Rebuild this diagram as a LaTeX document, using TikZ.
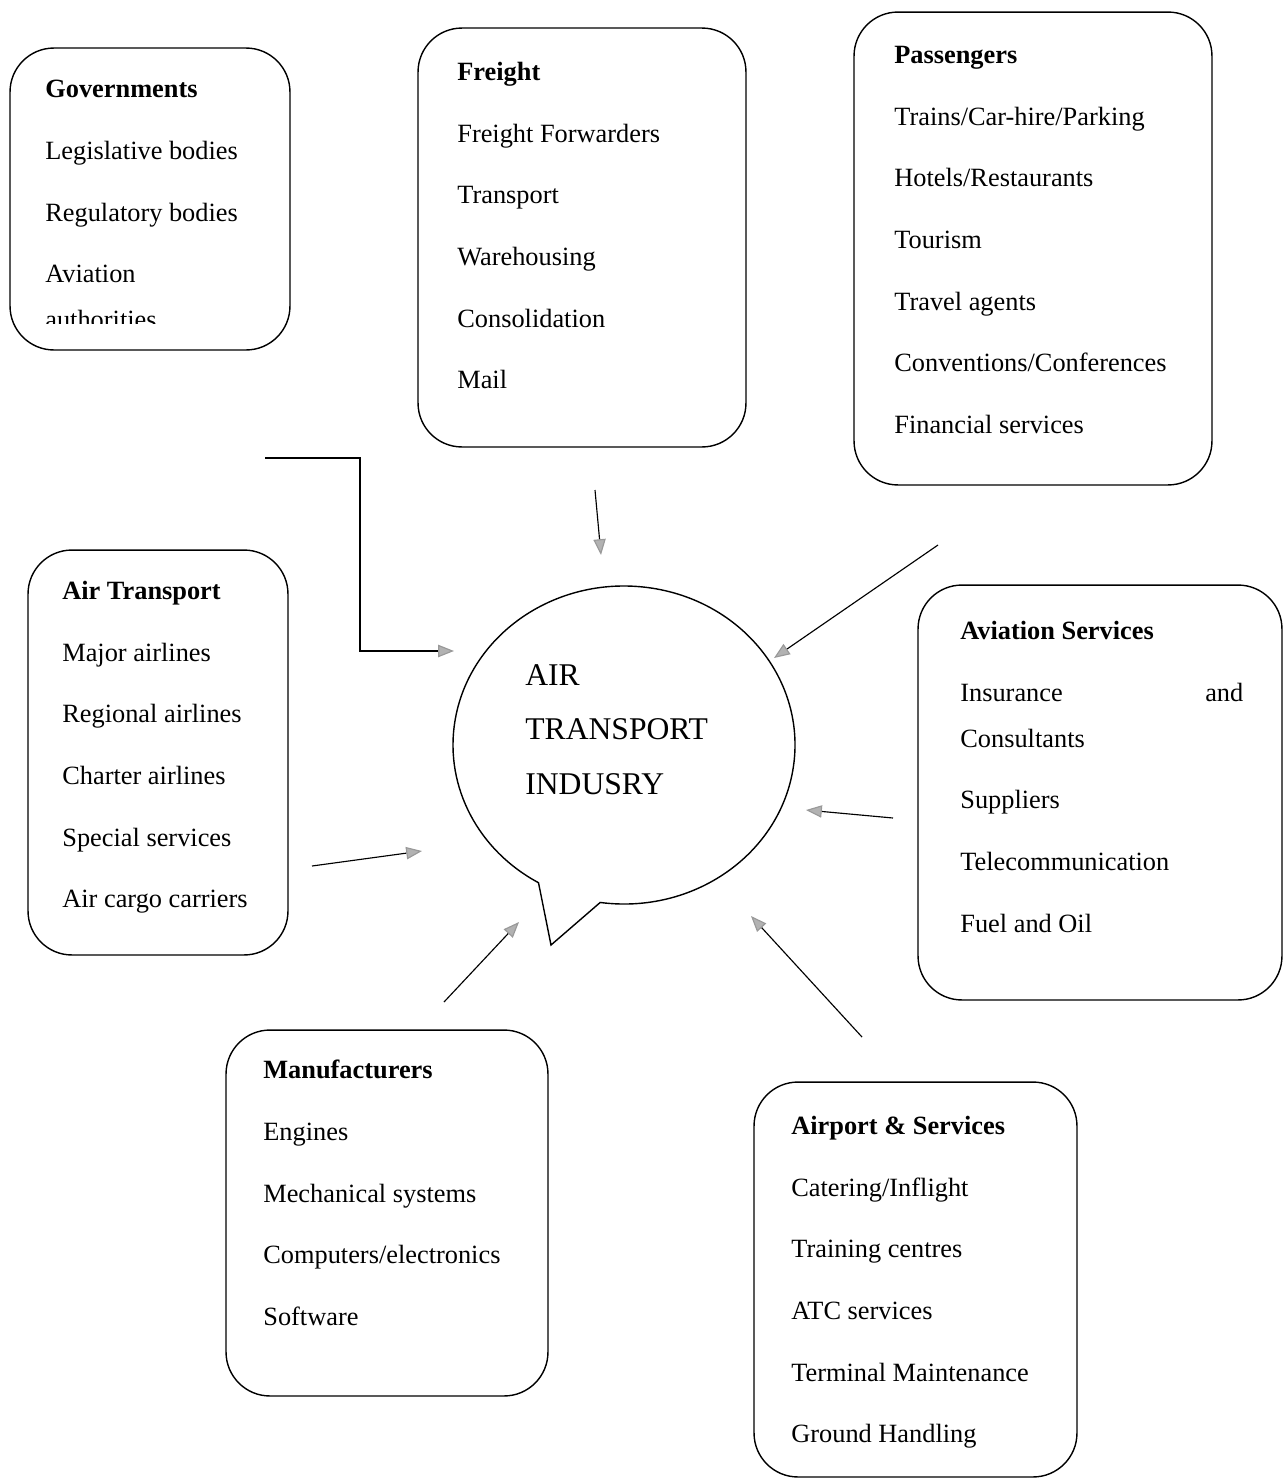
\documentclass[tikz,border=0pt]{standalone}
\usepackage{fontspec}
\setmainfont{Liberation Serif}
\usetikzlibrary{arrows.meta}
\usetikzlibrary{positioning}

\begin{document}
\begin{tikzpicture}[x=0.02cm,y=0.02cm,
                    catbox/.style={draw,rounded corners=25pt,line width=0.8pt},
                    boxtext/.style={anchor=north west,align=left,inner sep=0pt,
                                    font=\fontsize{15}{35.1}\selectfont},
                    feed/.style={-{Triangle[length=9pt,width=7pt,color=gray!80,fill=gray!60]},
                                 line width=0.65pt}]
  \useasboundingbox (0,0) rectangle (1288,-1478);

  % category boxes
  \node[catbox,minimum width=5.6cm,minimum height=6.04cm] (gov) at (150,-199) {};
  \node[catbox,minimum width=6.56cm,minimum height=8.38cm] (freight) at (582,-237.5) {};
  \node[catbox,minimum width=7.16cm,minimum height=9.46cm] (pass) at (1033,-248.5) {};
  \node[catbox,minimum width=5.2cm,minimum height=8.1cm] (airt) at (158,-752.5) {};
  \node[catbox,minimum width=7.28cm,minimum height=8.3cm] (avserv) at (1100,-792.5) {};
  \node[catbox,minimum width=6.44cm,minimum height=7.32cm] (manuf) at (387,-1213) {};
  \node[catbox,minimum width=6.46cm,minimum height=7.9cm] (airport) at (915.5,-1279.5) {};

  % box texts
  \begin{scope}
    \clip (10,-48) rectangle (290,-323);
    \node[boxtext] (govtext) at (45,-80)
      {\textbf{Governments}\\Legislative bodies\\Regulatory bodies\\Aviation\\[-9pt]authorities};
  \end{scope}
  \node[boxtext] (freighttext) at (457,-62)
    {\textbf{Freight}\\Freight Forwarders\\Transport\\Warehousing\\Consolidation\\Mail};
  \node[boxtext] (passtext) at (894,-46)
    {\textbf{Passengers}\\Trains/Car-hire/Parking\\Hotels/Restaurants\\Tourism\\Travel agents\\Conventions/Conferences\\Financial services};
  \node[boxtext] (airttext) at (62,-581)
    {\textbf{Air Transport}\\Major airlines\\Regional airlines\\Charter airlines\\Special services\\Air cargo carriers};
  \node[boxtext] (avservtext) at (960,-621)
    {\textbf{Aviation Services}\\\makebox[5.66cm][l]{Insurance\hfill and}\\[-9pt]Consultants\\Suppliers\\Telecommunication\\Fuel and Oil};
  \node[boxtext] (manuftext) at (263,-1060)
    {\textbf{Manufacturers}\\Engines\\Mechanical systems\\Computers/electronics\\Software};
  \node[boxtext] (airporttext) at (791,-1116)
    {\textbf{Airport \& Services}\\Catering/Inflight\\Training centres\\ATC services\\Terminal Maintenance\\Ground Handling};

  % speech bubble
  \coordinate (hubc) at (624,-745);
  \coordinate (tail) at (551,-945);
  \draw[line width=0.8pt] (tail) -- ([shift={(hubc)}]262:171 and 159)
    arc[start angle=262,end angle=600,x radius=171,y radius=159] -- cycle;
  \node[anchor=north west,align=left,inner sep=0pt,font=\fontsize{18}{31}\selectfont]
    (hub) at (525,-664) {AIR\\TRANSPORT\\INDUSRY};

  % arrow ends
  \coordinate (govA) at (265,-458);
  \coordinate (govB) at (454,-651);
  \coordinate (freightA) at (595,-490);
  \coordinate (freightB) at (601,-555);
  \coordinate (passA) at (938,-545);
  \coordinate (passB) at (774,-658);
  \coordinate (airtA) at (312,-866);
  \coordinate (airtB) at (422,-851);
  \coordinate (avservA) at (893,-818);
  \coordinate (avservB) at (806,-810);
  \coordinate (manufA) at (444,-1002);
  \coordinate (manufB) at (519,-922);
  \coordinate (airportA) at (862,-1037);
  \coordinate (airportB) at (751,-916);

  \draw[feed] (govA) -| (360,-651) -- (govB);
  \draw[feed] (freightA) -- (freightB);
  \draw[feed] (passA) -- (passB);
  \draw[feed] (airtA) -- (airtB);
  \draw[feed] (avservA) -- (avservB);
  \draw[feed] (manufA) -- (manufB);
  \draw[feed] (airportA) -- (airportB);
\end{tikzpicture}
\end{document}
